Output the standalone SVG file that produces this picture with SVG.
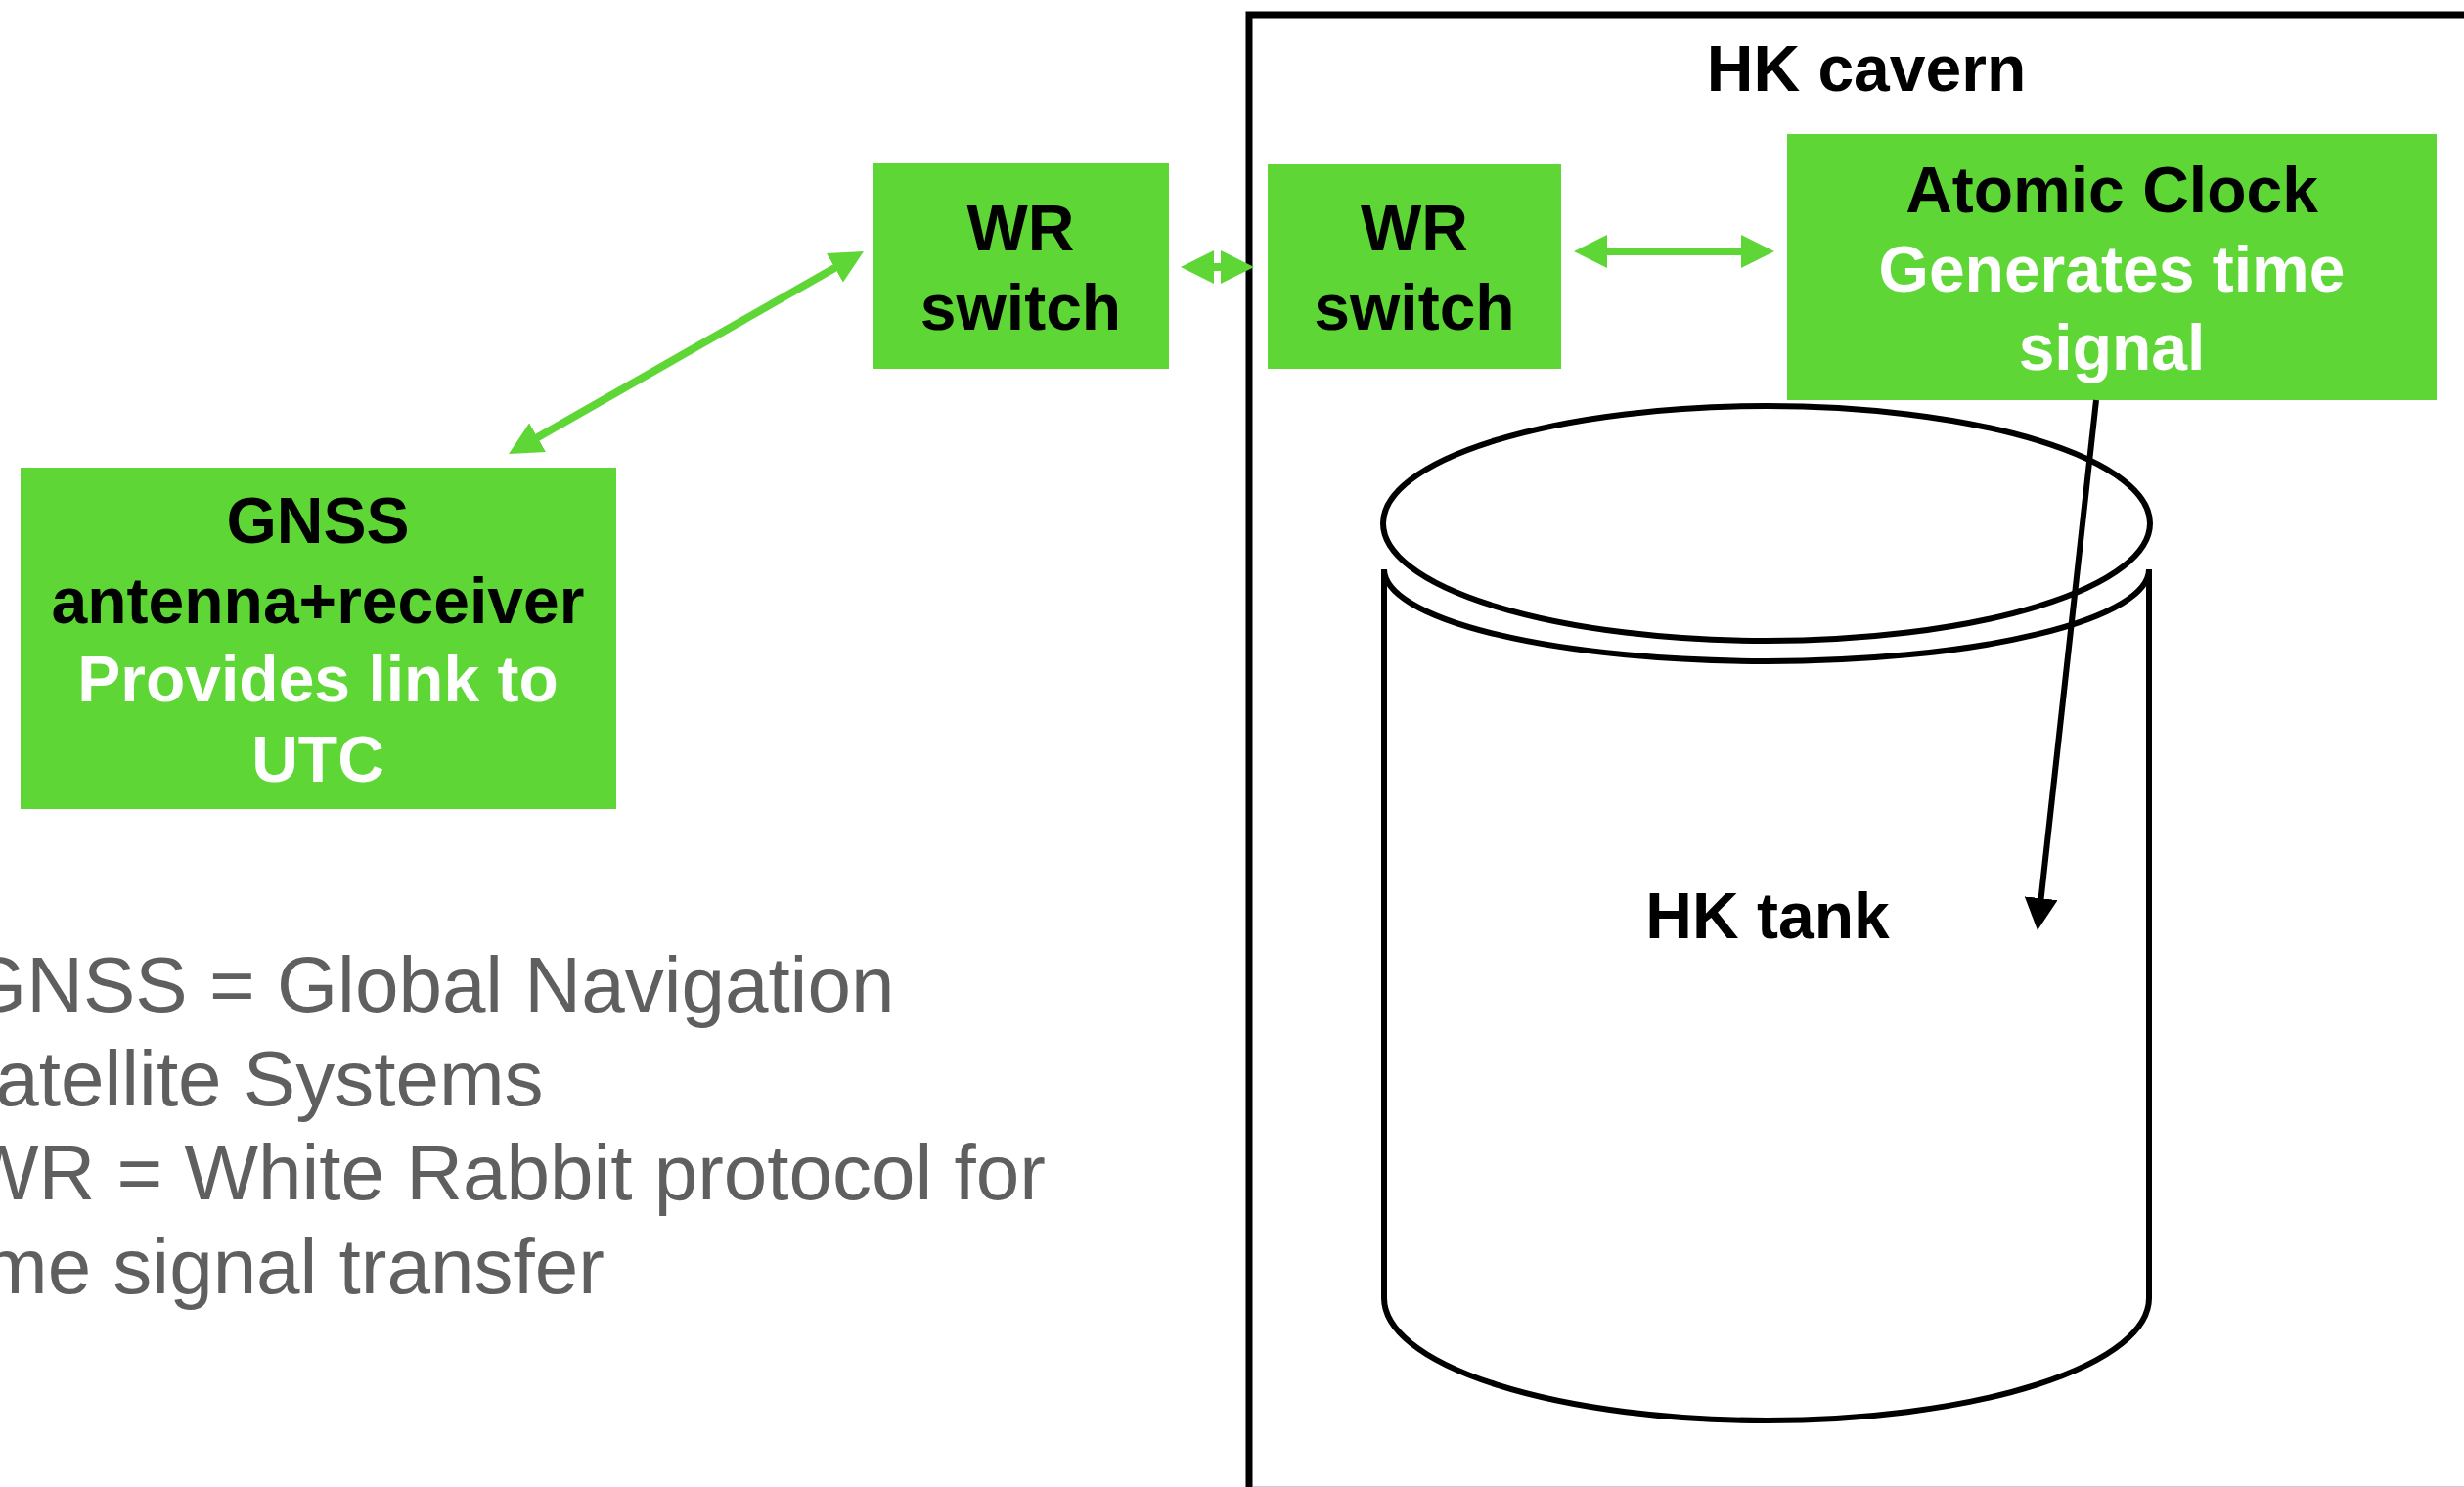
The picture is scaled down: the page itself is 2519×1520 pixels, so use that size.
<svg xmlns="http://www.w3.org/2000/svg" width="2519" height="1520" viewBox="0 0 2519 1520">
<style>
.box{fill:#5dd636;}
.t{font-family:"Liberation Sans",Arial,sans-serif;font-weight:bold;font-size:66px;text-anchor:middle;fill:#000;}
.w{fill:#fff;}
.legend{font-family:"Liberation Sans",Arial,sans-serif;font-size:80px;fill:#5f5f5f;}
.g{stroke:#5dd636;stroke-width:8;fill:none;}
.k{stroke:#000;stroke-width:6;fill:none;}
</style>
<defs>
<marker id="ga" markerUnits="userSpaceOnUse" markerWidth="34" markerHeight="34" refX="24" refY="17" orient="auto-start-reverse" viewBox="0 0 34 34">
<path d="M0,0 L34,17 L0,34 z" fill="#5dd636"/>
</marker>
<marker id="ka" markerUnits="userSpaceOnUse" markerWidth="33" markerHeight="34" refX="23" refY="17" orient="auto" viewBox="0 0 33 34">
<path d="M0,0 L33,17 L0,34 z" fill="#000"/>
</marker>
</defs>
<rect width="2519" height="1520" fill="#fff"/>

<g id="cavern">
<path d="M1277,1530 V15 H2530" fill="none" stroke="#000" stroke-width="7"/>
<line x1="1281" y1="1519.5" x2="2519" y2="1519.5" stroke="#cfcfcf" stroke-width="1"/>
<text class="t" x="1908" y="93" font-size="64">HK cavern</text>
</g>

<g id="tank">
<ellipse cx="1806" cy="535" rx="392" ry="120" fill="none" stroke="#000" stroke-width="6"/>
<path d="M1415,582 V1327 A391,125 0 0 0 2197,1327 V582 A391,94 0 0 1 1415,582 z" fill="none" stroke="#000" stroke-width="6" stroke-linejoin="miter"/>
<text class="t" x="1807" y="959">HK tank</text>
</g>

<g id="gnss">
<rect class="box" x="21" y="478" width="609" height="349"/>
<text class="t" x="325" y="555">GNSS</text>
<text class="t" x="325" y="637">antenna+receiver</text>
<text class="t w" x="325" y="717">Provides link to</text>
<text class="t w" x="325" y="799">UTC</text>
</g>

<g id="wr1">
<rect class="box" x="892" y="167" width="303" height="210"/>
<text class="t" x="1043.5" y="256">WR</text>
<text class="t" x="1043.5" y="337">switch</text>
</g>

<g id="wr2">
<rect class="box" x="1296" y="168" width="300" height="209"/>
<text class="t" x="1446" y="256">WR</text>
<text class="t" x="1446" y="337">switch</text>
</g>

<g id="atomic">
<rect class="box" x="1827" y="137" width="664" height="272"/>
<text class="t" x="2159" y="217">Atomic Clock</text>
<text class="t w" x="2159" y="298">Generates time</text>
<text class="t w" x="2159" y="378">signal</text>
</g>

<g id="legend">
<text class="legend" x="-35" y="1034">GNSS = Global Navigation</text>
<text class="legend" x="-58" y="1130">Satellite Systems</text>
<text class="legend" x="-36" y="1226">WR = White Rabbit protocol for</text>
<text class="legend" x="-58" y="1322">time signal transfer</text>
</g>

<g id="connectors">
<line class="g" x1="528.7" y1="459" x2="874.3" y2="262" marker-start="url(#ga)" marker-end="url(#ga)"/>
<line class="g" x1="1217" y1="273" x2="1272" y2="273" marker-start="url(#ga)" marker-end="url(#ga)"/>
<line class="g" x1="1619" y1="257" x2="1804" y2="257" marker-start="url(#ga)" marker-end="url(#ga)"/>
<line class="k" x1="2143" y1="409" x2="2084.1" y2="941.1" marker-end="url(#ka)"/>
</g>
</svg>
